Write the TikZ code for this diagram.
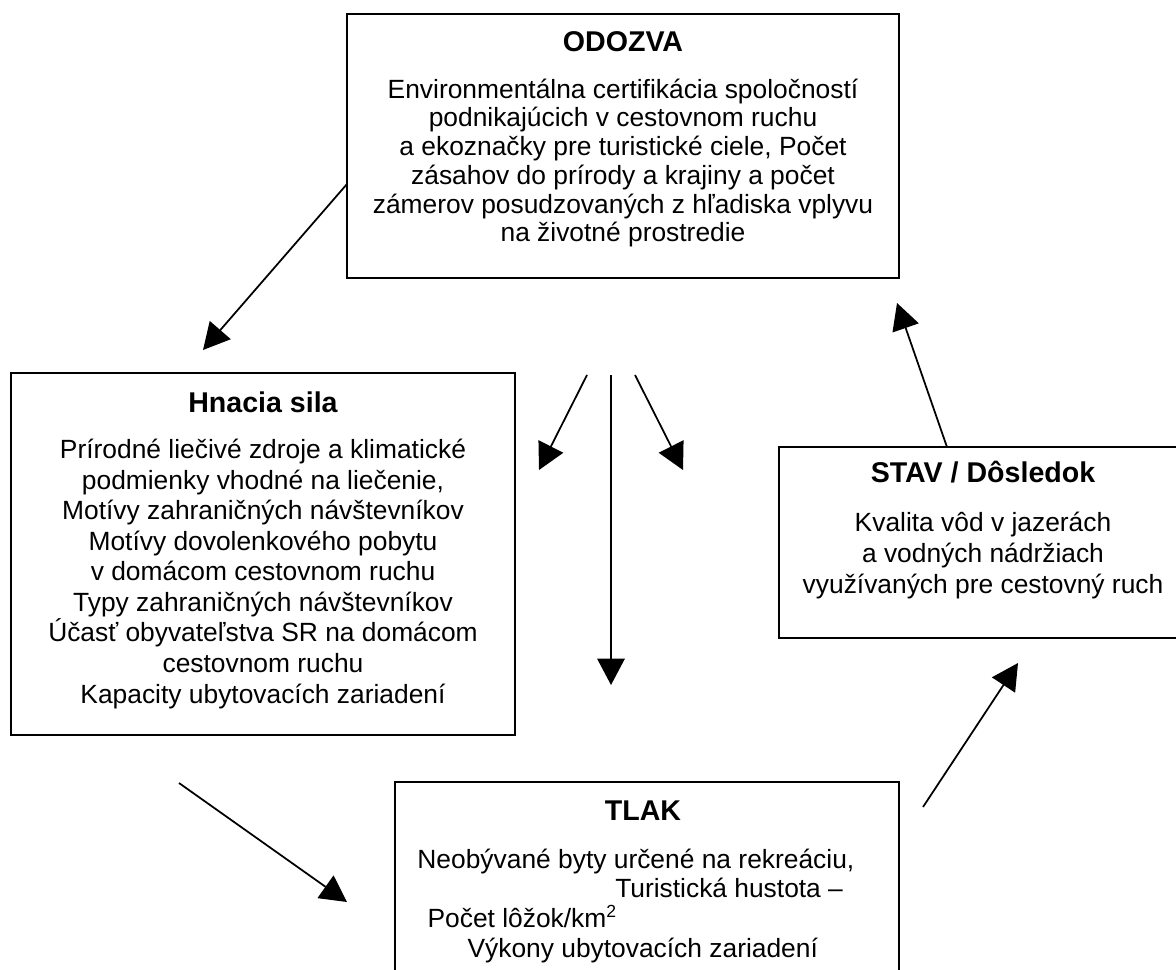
\documentclass[tikz,border=0pt]{standalone}
\usepackage{fontspec}
\setmainfont{Liberation Sans}
\usetikzlibrary{arrows.meta,fit}

\begin{document}
\begin{tikzpicture}[x=0.455pt,y=-0.455pt,
    box/.style = {rectangle,draw=black,line width=0.9pt,inner sep=0pt,outer sep=0pt},
    title/.style = {font=\fontsize{13}{15}\selectfont\bfseries,anchor=base,inner sep=0pt},
    body/.style = {align=center,anchor=base,inner sep=0pt},
    arr/.style = {line width=0.8pt,-{Triangle[length=12pt,width=12.5pt]}}]
\useasboundingbox (0,0) rectangle (1176,970);
% boxes
\node[box,fit={(347,14) (899,278)}] (odozva) {};
\node[box,fit={(11,373) (515,735)}] (hnacia) {};
\node[box,fit={(779,447) (1187,638)}] (stav) {};
\node[box,fit={(395,782) (899,1010)}] (tlak) {};
% texts (base = baseline of the last line)
\node[title] (odozvaTitle) at (623,52) {ODOZVA};
\node[body,font=\fontsize{12}{13.1}\selectfont] (odozvaText) at (623,242) {Environmentálna certifikácia spoločností\\ podnikajúcich v cestovnom ruchu\\ a ekoznačky pre turistické ciele, Počet\\ zásahov do prírody a krajiny a počet\\ zámerov posudzovaných z hľadiska vplyvu\\ na životné prostredie};
\node[title] (hnaciaTitle) at (263,412) {Hnacia sila};
\node[body,font=\fontsize{12}{13.9}\selectfont] (hnaciaText) at (263,703) {Prírodné liečivé zdroje a klimatické\\ podmienky vhodné na liečenie,\\ Motívy zahraničných návštevníkov\\ Motívy dovolenkového pobytu\\ v domácom cestovnom ruchu\\ Typy zahraničných návštevníkov\\ Účasť obyvateľstva SR na domácom\\ cestovnom ruchu\\ Kapacity ubytovacích zariadení};
\node[title] (stavTitle) at (983,482) {STAV / Dôsledok};
\node[body,font=\fontsize{12}{13.9}\selectfont] (stavText) at (983,593) {Kvalita vôd v jazerách\\ a vodných nádržiach\\ využívaných pre cestovný ruch};
\node[title] (tlakTitle) at (643,820) {TLAK};
\node[body,align=left,anchor=base west,font=\fontsize{12}{13.5}\selectfont] (tlakText) at (417,957) {Neobývané byty určené na rekreáciu,\\ \hspace*{90pt}Turistická hustota --\\ \hspace*{4.6pt}Počet lôžok/km\textsuperscript{2}\\ \hspace*{22.8pt}Výkony ubytovacích zariadení};
% free ends of the arrows
\coordinate (toHnacia) at (203,350);
\coordinate (fanL) at (587,375);
\coordinate (fanM) at (611,375);
\coordinate (fanR) at (635,375);
\coordinate (fanLtip) at (539,470);
\coordinate (fanMtip) at (611,685);
\coordinate (fanRtip) at (683,470);
\coordinate (toOdozva) at (897,303);
\coordinate (fromTlak) at (923,807);
\coordinate (toStav) at (1018,663);
\coordinate (fromHnacia) at (179,783);
\coordinate (toTlak) at (347,902);
% arrows
\draw[arr] ([yshift=-17.3pt]odozva.west) -- (toHnacia);
\foreach \s/\t in {fanL/fanLtip,fanM/fanMtip,fanR/fanRtip} \draw[arr] (\s) -- (\t);
\draw[arr] ([xshift=-16.4pt]stav.north) -- (toOdozva);
\draw[arr] (fromTlak) -- (toStav);
\draw[arr] (fromHnacia) -- (toTlak);
\end{tikzpicture}
\end{document}
